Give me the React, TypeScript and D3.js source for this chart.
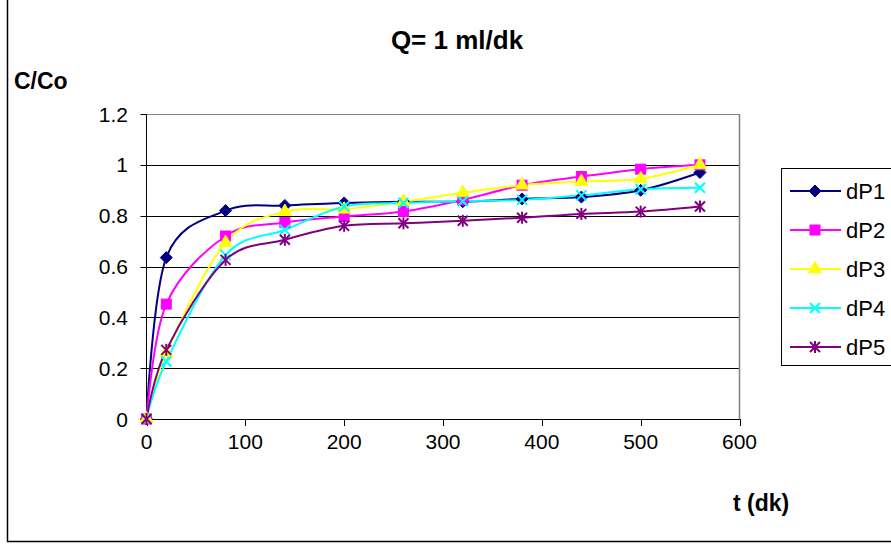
import React from 'react';
import * as d3 from 'd3';

const times = [0, 20, 80, 140, 200, 260, 320, 380, 440, 500, 560];
const dP1 = [0, 0.635, 0.82, 0.84, 0.85, 0.855, 0.855, 0.866, 0.873, 0.9, 0.97];
const dP2 = [0, 0.452, 0.72, 0.773, 0.797, 0.816, 0.862, 0.92, 0.954, 0.983, 1.0];
const dP3 = [0, 0.26, 0.694, 0.816, 0.825, 0.855, 0.89, 0.92, 0.934, 0.945, 1.0];
const dP4 = [0, 0.226, 0.645, 0.744, 0.836, 0.85, 0.857, 0.862, 0.88, 0.904, 0.91];
const dP5 = [0, 0.272, 0.626, 0.705, 0.76, 0.77, 0.78, 0.792, 0.807, 0.816, 0.836];

const seriesNames = ['dP1', 'dP2', 'dP3', 'dP4', 'dP5'];
const seriesValues = [dP1, dP2, dP3, dP4, dP5];
const seriesColors = ['#000080', '#FF00FF', '#FFFF00', '#00FFFF', '#800080'];
const seriesMarkers = ['diamond', 'square', 'triangle', 'x', 'star'];

const xTicks = [0, 100, 200, 300, 400, 500, 600];
const yTicks = [0, 0.2, 0.4, 0.6, 0.8, 1, 1.2];

const W = 891;
const H = 544;
const margin = { left: 146.5, right: 151.5, top: 114, bottom: 125 };
const FONT = '"Liberation Sans", Arial, sans-serif';

function Marker({ kind, x, y, color }: { kind: string; x: number; y: number; color: string }) {
  if (kind === 'diamond') {
    const r = 6;
    return <path d={`M${x},${y - r}L${x + r},${y}L${x},${y + r}L${x - r},${y}Z`} fill={color} stroke={color} strokeWidth={1} />;
  }
  if (kind === 'square') {
    return <rect x={x - 5} y={y - 5} width={10} height={10} fill={color} stroke={color} strokeWidth={1} />;
  }
  if (kind === 'triangle') {
    return <path d={d3.symbol(d3.symbolTriangle, 75)() || ''} transform={`translate(${x},${y})`} fill={color} stroke={color} strokeWidth={1} />;
  }
  const r = 5;
  if (kind === 'x') {
    return (
      <g stroke={color} strokeWidth={2}>
        <line x1={x - r} y1={y - r} x2={x + r} y2={y + r} />
        <line x1={x - r} y1={y + r} x2={x + r} y2={y - r} />
      </g>
    );
  }
  return (
    <g stroke={color} strokeWidth={2}>
      <line x1={x - r} y1={y - r} x2={x + r} y2={y + r} />
      <line x1={x - r} y1={y + r} x2={x + r} y2={y - r} />
      <line x1={x} y1={y - r - 1} x2={x} y2={y + r + 1} />
    </g>
  );
}

export default function App() {
  const x = d3.scaleLinear().domain([0, 600]).range([margin.left, W - margin.right]);
  const y = d3.scaleLinear().domain([0, 1.2]).range([H - margin.bottom, margin.top]);

  const line = d3
    .line<number>()
    .x((_, i) => x(times[i]))
    .y((d) => y(d))
    .curve(d3.curveCardinal.tension(0));

  const plotRight = W - margin.right;
  const plotBottom = H - margin.bottom;

  const legendX = 781;
  const legendTop = 168;
  const legendRowY = (i: number) => 191 + i * 39;

  return (
    <svg width={W} height={H} style={{ position: 'absolute', left: 0, top: 0, background: '#fff' }} fontFamily={FONT}>
      <rect x={0} y={0} width={W} height={H} fill="#fff" />
      {/* outer chart border */}
      <rect x={7.5} y={-2} width={W + 4} height={543.5} fill="none" stroke="#000" strokeWidth={1.5} />

      {/* gridlines */}
      {yTicks.map((t) => (
        <line
          key={t}
          x1={margin.left}
          x2={plotRight}
          y1={Math.round(y(t)) + 0.5}
          y2={Math.round(y(t)) + 0.5}
          stroke={t === 1.2 ? '#808080' : '#000'}
          strokeWidth={1}
        />
      ))}
      <line x1={plotRight} x2={plotRight} y1={margin.top} y2={plotBottom} stroke="#808080" strokeWidth={1.5} />

      {/* axes */}
      <line x1={margin.left} x2={margin.left} y1={margin.top} y2={plotBottom + 0.5} stroke="#000" strokeWidth={1} />
      <line x1={margin.left} x2={plotRight} y1={plotBottom + 0.5} y2={plotBottom + 0.5} stroke="#000" strokeWidth={1} />
      {yTicks.map((t) => (
        <g key={`yt${t}`}>
          <line x1={margin.left - 6} x2={margin.left} y1={Math.round(y(t)) + 0.5} y2={Math.round(y(t)) + 0.5} stroke="#000" />
          <text x={128} y={y(t)} dy="0.36em" textAnchor="end" fontSize={21} fill="#000">
            {d3.format('~g')(t)}
          </text>
        </g>
      ))}
      {xTicks.map((t) => (
        <g key={`xt${t}`}>
          <line x1={Math.round(x(t)) + 0.5} x2={Math.round(x(t)) + 0.5} y1={plotBottom} y2={plotBottom + 7} stroke="#000" />
          <text x={x(t)} y={449} textAnchor="middle" fontSize={21} fill="#000">
            {t}
          </text>
        </g>
      ))}

      {/* series */}
      {seriesValues.map((vals, si) => (
        <path key={`l${si}`} d={line(vals) || ''} fill="none" stroke={seriesColors[si]} strokeWidth={2} />
      ))}
      {seriesValues.map((vals, si) => (
        <g key={`m${si}`}>
          {vals.map((v, i) => (
            <Marker key={i} kind={seriesMarkers[si]} x={x(times[i])} y={y(v)} color={seriesColors[si]} />
          ))}
        </g>
      ))}

      {/* titles */}
      <text x={457} y={49} textAnchor="middle" fontSize={26} fontWeight="bold" fill="#000">
        Q= 1 ml/dk
      </text>
      <text x={14} y={89} fontSize={23} fontWeight="bold" fill="#000">
        C/Co
      </text>
      <text x={733} y={511} fontSize={23} fontWeight="bold" fill="#000">
        t (dk)
      </text>

      {/* legend */}
      <rect x={legendX + 0.5} y={legendTop + 0.5} width={W} height={365 - legendTop} fill="#fff" stroke="#000" strokeWidth={1} />
      {seriesNames.map((name, i) => (
        <g key={name}>
          <line x1={790} x2={841} y1={legendRowY(i)} y2={legendRowY(i)} stroke={seriesColors[i]} strokeWidth={2} />
          <Marker kind={seriesMarkers[i]} x={815} y={legendRowY(i)} color={seriesColors[i]} />
          <text x={846} y={legendRowY(i)} dy="0.36em" fontSize={22} fill="#000">
            {name}
          </text>
        </g>
      ))}
    </svg>
  );
}
